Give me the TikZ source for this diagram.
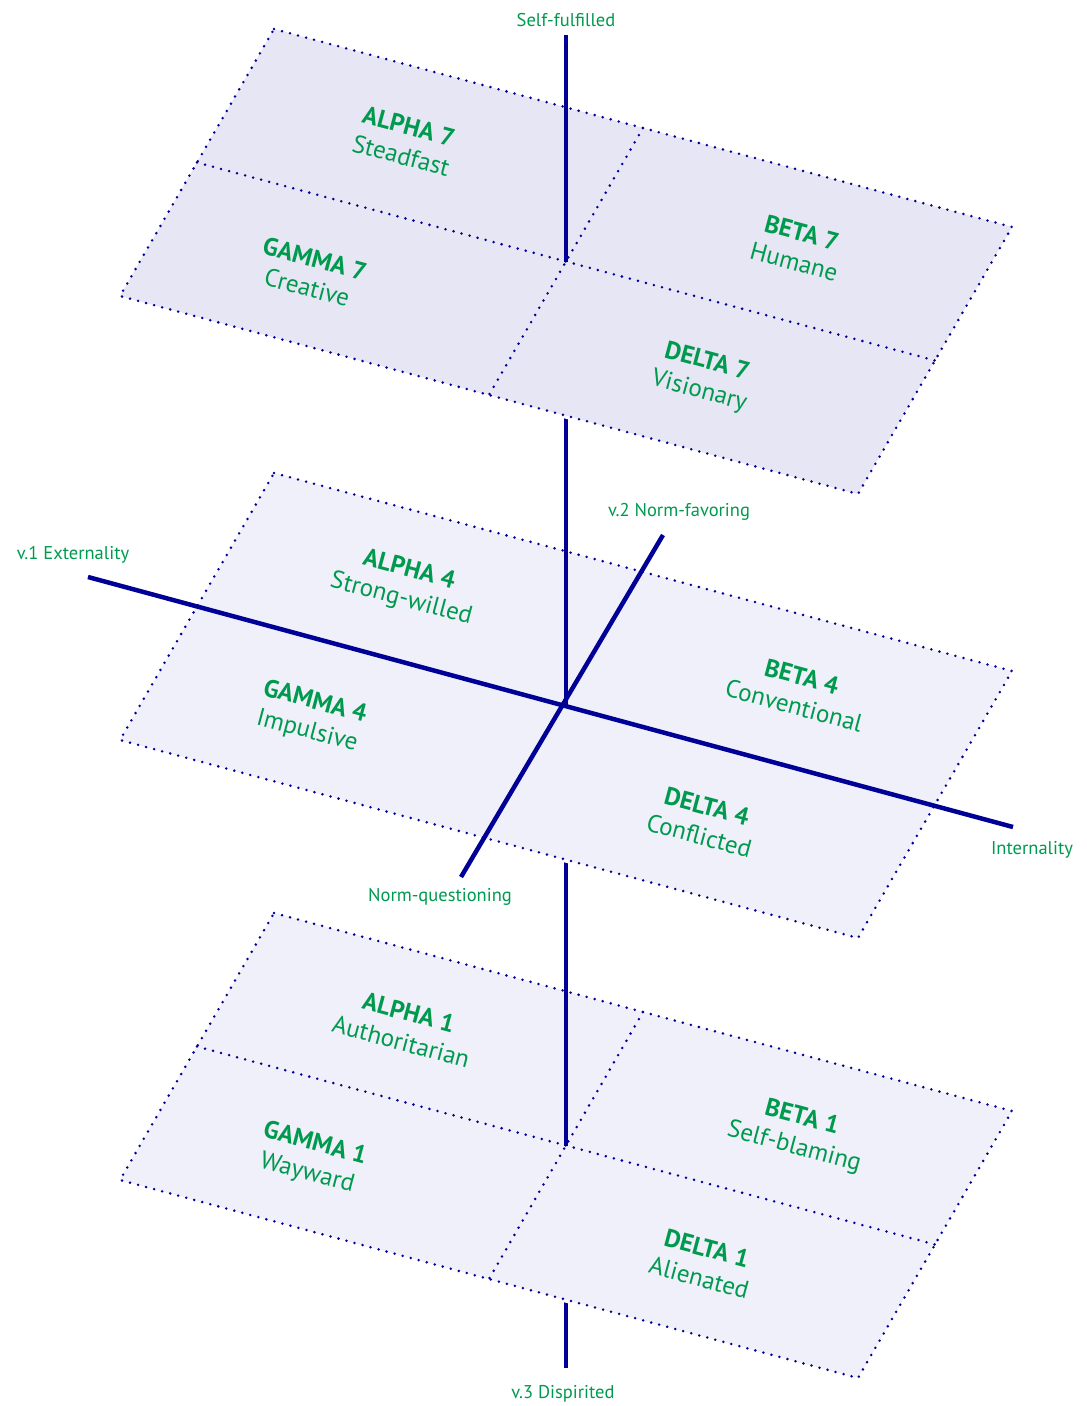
\documentclass[tikz,border=0pt]{standalone}
\usepackage{fontspec}
\setmainfont{PT Sans}
\usetikzlibrary{calc}
\definecolor{axisBlue}{RGB}{0,0,150}
\definecolor{labelGreen}{RGB}{0,154,78}
\definecolor{planeDark}{RGB}{230,230,244}
\definecolor{planeLight}{RGB}{240,240,250}

\begin{document}
\begin{tikzpicture}
[x=1pt,y=-1pt,
  axisDecorate/.style={-,draw=axisBlue,line width=4.5pt},
  haloDecorate/.style={draw=white,line width=6pt,line join=round},
  planeDecorate/.style={draw=axisBlue,line width=2.8pt,line cap=round,dash pattern=on 0pt off 8.3pt},
  quadDecorate/.style={text=labelGreen,font=\fontsize{25}{30}\selectfont,align=center,rotate=-15,inner sep=0pt},
  axisLabel/.style={text=labelGreen,font=\fontsize{18.5}{20}\selectfont,inner sep=0pt}]
\useasboundingbox (0,0) rectangle (1087,1406);
%% corners of the three levels
\foreach \pname/\oy in {top/0, mid/444, bot/884}
{
  \coordinate (\pname-T) at (274,29+\oy);
  \coordinate (\pname-R) at (1012,227+\oy);
  \coordinate (\pname-B) at (858,494+\oy);
  \coordinate (\pname-L) at (120,296+\oy);
  \coordinate (\pname-n) at ($(\pname-T)!0.5!(\pname-R)$);
  \coordinate (\pname-e) at ($(\pname-R)!0.5!(\pname-B)$);
  \coordinate (\pname-s) at ($(\pname-B)!0.5!(\pname-L)$);
  \coordinate (\pname-w) at ($(\pname-L)!0.5!(\pname-T)$);
  \coordinate (\pname-c) at ($(\pname-T)!0.5!(\pname-B)$);
}
%% axis ends
\coordinate (axisN) at (566,35);
\coordinate (axisS) at (566,1368);
\coordinate (extEnd) at (88,577);
\coordinate (intEnd) at (1013,827);
\coordinate (favEnd) at (663,535);
\coordinate (queEnd) at (461,877);
%% levels, from the lowest up, with the v.3 axis
\foreach \pname/\prev/\fillc in {bot/axisS/planeLight, mid/bot-c/planeLight, top/mid-c/planeDark}
{
  \draw[axisDecorate] (\prev) -- (\pname-c);
  \draw[haloDecorate] (\pname-T) -- (\pname-R) -- (\pname-B) -- (\pname-L) -- cycle;
  \fill[\fillc] (\pname-T) -- (\pname-R) -- (\pname-B) -- (\pname-L) -- cycle;
  \draw[planeDecorate] (\pname-T) -- (\pname-R) -- (\pname-B) -- (\pname-L) -- cycle;
}
%% dotted quadrant borders (the middle level has the axes instead)
\foreach \pname in {bot, top}
{
  \draw[planeDecorate] (\pname-n) -- (\pname-s) (\pname-w) -- (\pname-e);
}
\draw[axisDecorate] (top-c) -- (axisN);
%% v.1 and v.2 axes
\draw[axisDecorate] (extEnd) -- (intEnd);
\draw[axisDecorate] (favEnd) -- (queEnd);
%% quadrant names
\foreach \qname/\x/\y/\title/\sub in {
  alpha7/405/141/ALPHA 7/Steadfast,
  gamma7/311/273/GAMMA 7/Creative,
  beta7/798/247/BETA 7/Humane,
  delta7/703/377/DELTA 7/Visionary,
  alpha4/405/585/ALPHA 4/Strong-willed,
  gamma4/311/717/GAMMA 4/Impulsive,
  beta4/798/691/BETA 4/Conventional,
  delta4/703/821/DELTA 4/Conflicted,
  alpha1/405/1027/ALPHA 1/Authoritarian,
  gamma1/311/1159/GAMMA 1/Wayward,
  beta1/798/1133/BETA 1/Self-blaming,
  delta1/703/1263/DELTA 1/Alienated}
{
  \node[quadDecorate] (\qname) at (\x,\y) {\textbf{\title}\\\sub};
}
%% axis names
\node[axisLabel] (selfLabel) at (566,20) {Self-fulfilled};
\node[axisLabel] (dispLabel) at (563,1394) {v.3 Dispirited};
\node[axisLabel] (extLabel) at (73,555) {v.1 Externality};
\node[axisLabel] (intLabel) at (1032,850) {Internality};
\node[axisLabel] (favLabel) at (679,512) {v.2 Norm-favoring};
\node[axisLabel] (queLabel) at (440,897) {Norm-questioning};
\end{tikzpicture}
\end{document}
